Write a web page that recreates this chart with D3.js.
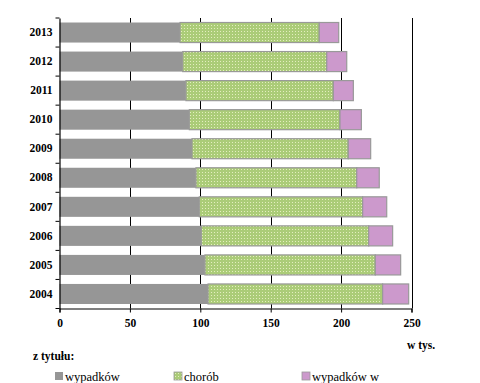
<!DOCTYPE html>
<html><head><meta charset="utf-8">
<script src="https://cdn.jsdelivr.net/npm/d3@7"></script>
<style>
body{margin:0;background:#fff;}
svg{display:block;}
svg text{font-family:"Liberation Serif","Times New Roman",serif !important;}
</style></head>
<body>
<svg id="c" width="480" height="383"></svg>
<script>
const years = ["2013","2012","2011","2010","2009","2008","2007","2006","2005","2004"];
const wypadkow = [85.6, 87.5, 89.8, 92.2, 94.1, 96.9, 99.3, 100.7, 103.3, 105.5];
const chorob = [98.9, 102.3, 104.7, 107.0, 111.0, 114.2, 116.0, 118.9, 121.0, 124.0];
const wypadkowW = [13.8, 14.2, 14.2, 15.2, 15.9, 16.0, 17.1, 17.0, 18.0, 18.5];
const xTicks = [0, 50, 100, 150, 200, 250];
const seriesNames = ["wypadków", "chorób", "wypadków w"];

(function(){
const svg = d3.select("#c");
const defs = svg.append("defs");
const pat = defs.append("pattern").attr("id","dots").attr("patternUnits","userSpaceOnUse")
  .attr("width",3).attr("height",3);
pat.append("rect").attr("width",3).attr("height",3).attr("fill","#abcc78");
pat.append("rect").attr("x",1).attr("y",1).attr("width",1).attr("height",1).attr("fill","#e4eec0");

const mL = 59.5, mR = 411.5, mT = 18, mB = 308.5;
const x = d3.scaleLinear().domain([0,250]).range([mL,mR]);
const y = d3.scaleBand().domain(years).range([mT,mB]).paddingInner(0.31).paddingOuter(0.155);
const yb = d3.scaleBand().domain(years).range([mT,mB]);

svg.append("g").selectAll("line").data(xTicks.filter(d=>d>0)).join("line")
  .attr("x1",d=>Math.round(x(d))+0.5).attr("x2",d=>Math.round(x(d))+0.5)
  .attr("y1",mT).attr("y2",mB).attr("stroke","#000").attr("stroke-width",1);

const colors = ["#969696","url(#dots)","#cc99cc"];
const strokes = ["none","#999999","#999999"];
const stackData = years.map((yr,i)=>({yr, a:wypadkow[i], b:chorob[i], c:wypadkowW[i]}));
const stack = d3.stack().keys(["a","b","c"])(stackData);
stack.forEach((s,k)=>{
  svg.append("g").selectAll("rect").data(s).join("rect")
    .attr("x",d=>x(d[0])).attr("width",d=>x(d[1])-x(d[0]))
    .attr("y",d=>y(d.data.yr)).attr("height",y.bandwidth())
    .attr("fill",colors[k]).attr("stroke",strokes[k]).attr("stroke-width",1.2);
});

const xa = svg.append("g").attr("transform",`translate(0,${mB})`)
  .call(d3.axisBottom(x).tickValues(xTicks).tickSize(4).tickPadding(6));
xa.attr("font-family",null);
xa.select(".domain").attr("stroke","#000").attr("stroke-width",1.2);
xa.selectAll(".tick line").attr("stroke","#000");
xa.selectAll("text").attr("font-weight","bold").attr("font-size",11.5).attr("fill","#000");

const ya = svg.append("g").attr("transform",`translate(${mL},0)`)
  .call(d3.axisLeft(yb).tickSize(0).tickPadding(7));
ya.attr("font-family",null);
ya.select(".domain").attr("stroke","#000").attr("stroke-width",1.2);
ya.selectAll("text").attr("font-weight","bold").attr("font-size",11.5).attr("fill","#000");
const bounds = years.map(d=>yb(d)).concat([mB]);
svg.append("g").selectAll("line").data(bounds).join("line")
  .attr("x1",mL-4).attr("x2",mL).attr("y1",d=>d).attr("y2",d=>d)
  .attr("stroke","#000").attr("stroke-width",1);

svg.append("text").attr("x",407).attr("y",349).attr("font-size",11.5).attr("font-weight","bold").text("w tys.");
svg.append("text").attr("x",33).attr("y",360).attr("font-size",11.5).attr("font-weight","bold").text("z tytułu:");

const legX = [55, 174, 302];
const legFill = ["#969696","url(#dots)","#cc99cc"];
const leg = svg.append("g");
seriesNames.forEach((n,i)=>{
  leg.append("rect").attr("x",legX[i]).attr("y",372).attr("width",8).attr("height",8)
    .attr("fill",legFill[i]).attr("stroke", i===0?"none":"#999").attr("stroke-width",0.8);
  leg.append("text").attr("x",legX[i]+10).attr("y",381).attr("font-size",12.5).text(n);
});
})();
</script>
</body></html>
